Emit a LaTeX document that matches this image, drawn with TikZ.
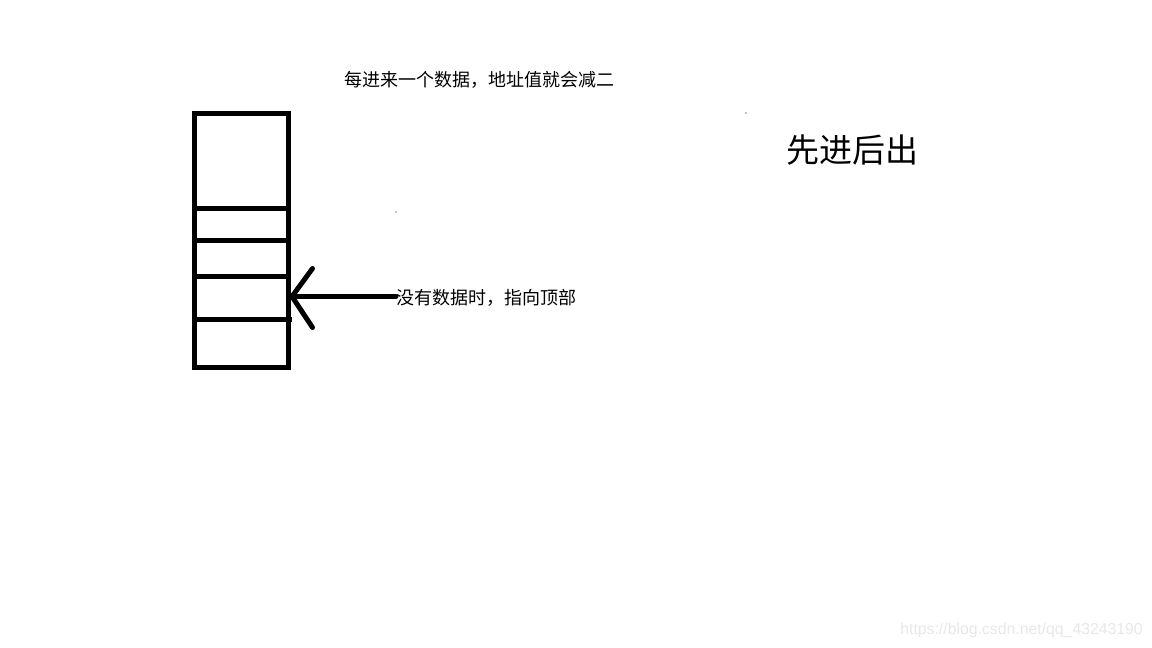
\documentclass[tikz,border=0pt]{standalone}
\usepackage{fontspec}
\newfontfamily\cjk{Noto Sans CJK SC}
\newfontfamily\wm{Liberation Sans}
\begin{document}
\begin{tikzpicture}[x=1pt,y=-1pt,
  thick line/.style={line width=5pt,black},
  label text/.style={inner sep=0pt,anchor=west,font=\cjk\fontsize{18}{21}\selectfont},
  dot/.style={fill=black,inner sep=0pt,minimum size=1.2pt,circle}]
\useasboundingbox (0,0) rectangle (1152,648);
\fill[white] (0,0) rectangle (1152,648);
% stack
\draw[thick line] (194.5,113.5) rectangle (288.5,367.5);
\coordinate (d1l) at (194.5,208.5); \coordinate (d1r) at (288.5,208.5);
\coordinate (d2l) at (194.5,240.5); \coordinate (d2r) at (288.5,240.5);
\coordinate (d3l) at (194.5,276.5); \coordinate (d3r) at (288.5,276.5);
\coordinate (d4l) at (194.5,319.5); \coordinate (d4r) at (292,319.5);
\draw[thick line] (d1l) -- (d1r);
\draw[thick line] (d2l) -- (d2r);
\draw[thick line] (d3l) -- (d3r);
\draw[thick line] (d4l) -- (d4r);
% pointer
\node[label text] (ptr) at (396,298) {没有数据时，指向顶部};
\coordinate (tip) at (292,296.5);
\coordinate (up) at (312.5,268.5);
\coordinate (lo) at (312.5,327.5);
\draw[thick line,line cap=round] (ptr.west |- tip) -- (tip);
\draw[thick line,line cap=round] (up) -- (tip) -- (lo);
% texts
\node[label text] (top) at (344,80) {每进来一个数据，地址值就会减二};
\node[inner sep=0pt,anchor=west,font=\cjk\fontsize{33}{38}\selectfont] (fifo) at (786,150) {先进后出};
\node[inner sep=0pt,anchor=east,font=\wm\fontsize{15.8}{18}\selectfont,text=black!9] (wmk) at (1143,630) {https://blog.csdn.net/qq\_43243190};
% stray dots
\node[dot] (p1) at (746,113) {};
\node[dot] (p2) at (396,212) {};
\end{tikzpicture}
\end{document}
